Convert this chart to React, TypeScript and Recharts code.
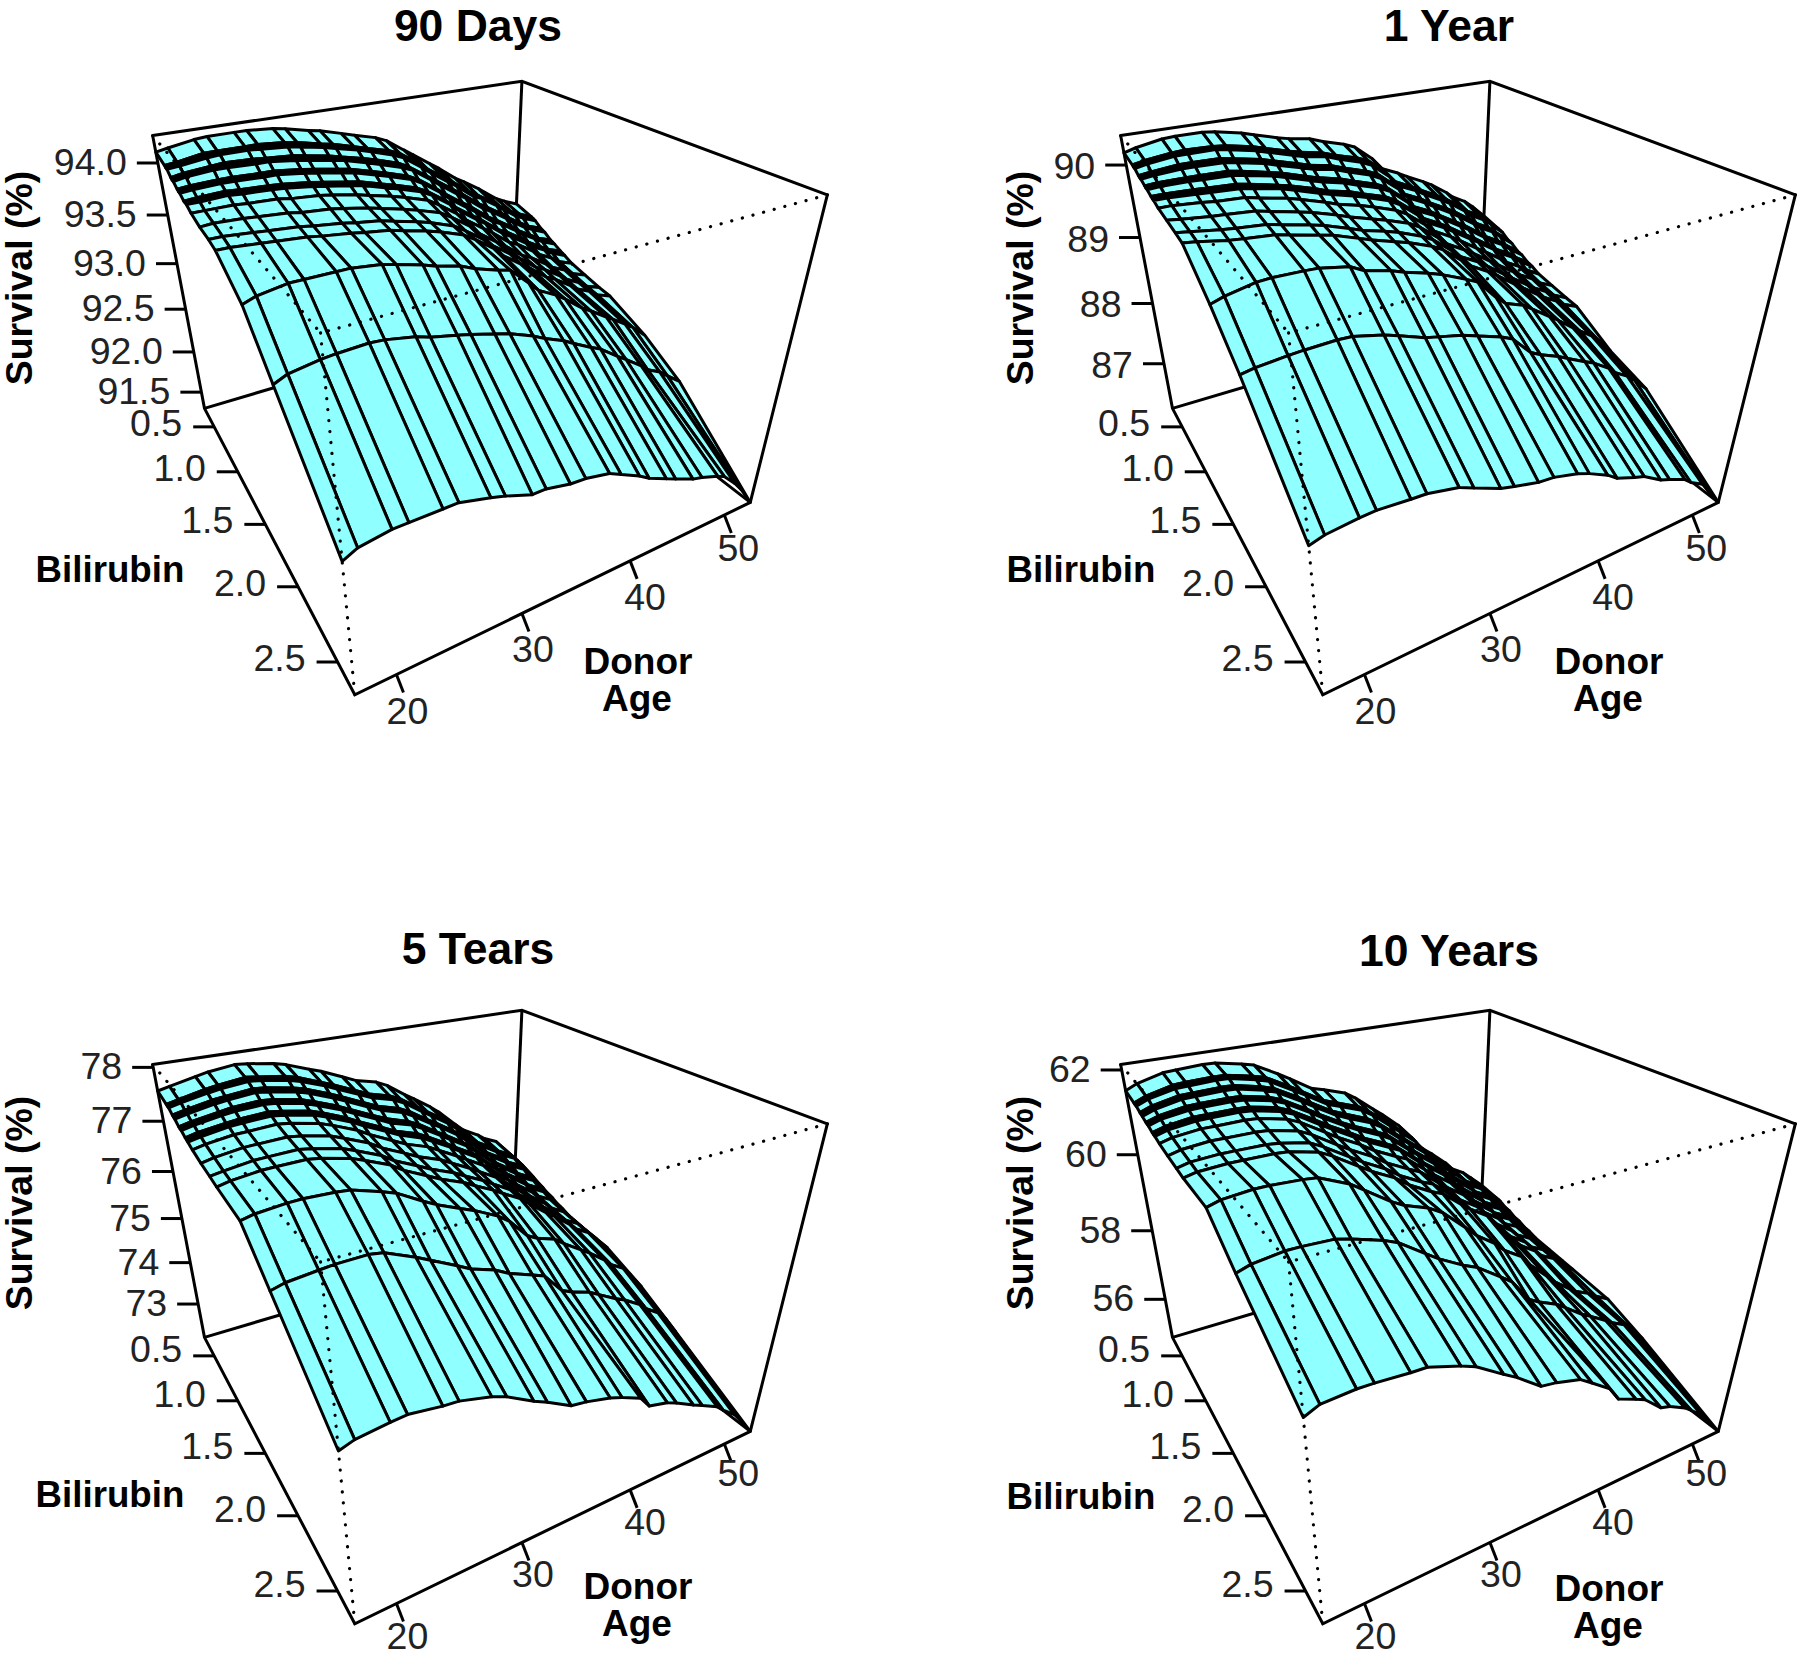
import React from "react";
import { ScatterChart, Scatter, XAxis, YAxis } from "recharts";

// Donor age (columns) and bilirubin (rows) of the surface grid
const AGES = [17,18,20.2,21.3,23.6,24.7,27,28.1,30.2,31.3,33.3,34.6,36.7,37.8,39.6,40.6,42.4,43.4,45.3,46.3,48.1,48.9,50.4,51.4,53];
const BILI = [0.27,0.46,0.485,0.51,0.58,0.605,0.63,0.7,0.725,0.75,0.82,0.845,0.87,0.95,1.1,1.25,1.36,1.71,2.04,2.69];
const AGE_LIMITS = [17, 53];
const BILI_LIMITS = [0.27, 2.69];
const AGE_TICKS = [20, 30, 40, 50];
const BILI_TICKS = ["0.5", "1.0", "1.5", "2.0", "2.5"];

const SURVIVAL_90D = [
[94.10,94.12,94.16,94.17,94.17,94.17,94.15,94.13,94.08,94.06,94.00,93.96,93.90,93.85,93.72,93.65,93.52,93.45,93.30,93.24,93.12,93.06,92.95,92.90,92.83],
[94.07,94.08,94.12,94.12,94.12,94.12,94.10,94.08,94.03,94.01,93.95,93.91,93.85,93.80,93.67,93.59,93.46,93.39,93.24,93.18,93.06,93.00,92.90,92.85,92.78],
[94.06,94.07,94.11,94.11,94.11,94.11,94.09,94.07,94.02,94.00,93.94,93.90,93.84,93.79,93.66,93.58,93.45,93.38,93.23,93.17,93.05,92.99,92.89,92.84,92.77],
[94.06,94.07,94.10,94.11,94.11,94.10,94.08,94.06,94.02,93.99,93.94,93.90,93.83,93.78,93.65,93.57,93.44,93.37,93.22,93.17,93.05,92.99,92.88,92.83,92.76],
[94.02,94.04,94.06,94.07,94.06,94.05,94.03,94.01,93.97,93.94,93.89,93.85,93.78,93.72,93.59,93.52,93.39,93.32,93.17,93.11,92.99,92.93,92.83,92.77,92.71],
[94.01,94.03,94.05,94.06,94.05,94.04,94.02,94.00,93.96,93.93,93.88,93.84,93.77,93.71,93.58,93.51,93.38,93.31,93.16,93.10,92.98,92.92,92.82,92.76,92.70],
[94.01,94.03,94.05,94.05,94.04,94.04,94.01,93.99,93.95,93.93,93.87,93.83,93.76,93.71,93.58,93.50,93.37,93.30,93.15,93.09,92.97,92.91,92.81,92.76,92.69],
[93.98,93.99,94.00,94.00,93.99,93.99,93.96,93.94,93.90,93.88,93.82,93.78,93.71,93.65,93.52,93.44,93.31,93.24,93.09,93.03,92.91,92.85,92.76,92.70,92.64],
[93.97,93.98,93.99,93.99,93.98,93.98,93.95,93.93,93.89,93.87,93.81,93.77,93.70,93.64,93.51,93.43,93.30,93.23,93.08,93.02,92.90,92.84,92.75,92.69,92.63],
[93.97,93.98,93.99,93.99,93.98,93.98,93.95,93.93,93.89,93.87,93.81,93.77,93.70,93.64,93.51,93.42,93.29,93.22,93.07,93.02,92.90,92.84,92.75,92.69,92.62],
[93.94,93.95,93.96,93.95,93.94,93.93,93.90,93.88,93.84,93.82,93.76,93.72,93.65,93.59,93.46,93.37,93.24,93.17,93.02,92.97,92.85,92.79,92.70,92.64,92.58],
[93.94,93.94,93.95,93.94,93.93,93.92,93.89,93.87,93.83,93.81,93.75,93.71,93.64,93.58,93.45,93.36,93.23,93.16,93.01,92.96,92.84,92.78,92.69,92.63,92.57],
[93.94,93.94,93.95,93.94,93.93,93.92,93.89,93.87,93.83,93.81,93.75,93.71,93.64,93.58,93.45,93.36,93.23,93.16,93.01,92.95,92.83,92.77,92.69,92.63,92.56],
[93.91,93.91,93.91,93.90,93.89,93.87,93.85,93.83,93.79,93.76,93.71,93.67,93.60,93.53,93.40,93.31,93.18,93.11,92.96,92.91,92.79,92.73,92.65,92.58,92.52],
[93.88,93.89,93.88,93.87,93.85,93.83,93.81,93.79,93.75,93.72,93.67,93.63,93.56,93.49,93.36,93.26,93.13,93.06,92.91,92.86,92.74,92.68,92.61,92.54,92.48],
[93.87,93.87,93.85,93.84,93.82,93.80,93.77,93.75,93.72,93.69,93.64,93.60,93.52,93.45,93.32,93.23,93.10,93.03,92.88,92.83,92.71,92.65,92.57,92.50,92.44],
[93.85,93.85,93.83,93.82,93.80,93.78,93.75,93.73,93.70,93.67,93.62,93.58,93.50,93.43,93.30,93.20,93.07,93.00,92.85,92.80,92.68,92.62,92.55,92.48,92.42],
[93.66,93.70,93.74,93.74,93.74,93.74,93.71,93.68,93.62,93.58,93.53,93.47,93.40,93.37,93.20,93.10,93.00,92.93,92.78,92.72,92.60,92.55,92.45,92.38,92.24],
[93.30,93.35,93.39,93.40,93.41,93.40,93.35,93.31,93.26,93.23,93.17,93.13,93.04,92.98,92.90,92.84,92.74,92.69,92.55,92.48,92.35,92.28,92.20,92.12,92.00],
[92.60,92.66,92.70,92.70,92.70,92.70,92.63,92.59,92.50,92.50,92.45,92.44,92.39,92.33,92.23,92.16,92.07,92.02,91.93,91.90,91.83,91.79,91.64,91.52,91.29],
];

const SURVIVAL_1Y = [
[90.16,90.2,90.26,90.27,90.27,90.25,90.18,90.13,90.04,90.0,89.95,89.88,89.79,89.72,89.5,89.32,89.2,89.12,88.98,88.9,88.72,88.62,88.5,88.38,88.16],
[90.13,90.16,90.2,90.21,90.2,90.18,90.11,90.06,89.97,89.93,89.87,89.8,89.71,89.64,89.42,89.25,89.12,89.04,88.89,88.81,88.63,88.53,88.41,88.29,88.09],
[90.12,90.15,90.19,90.2,90.19,90.17,90.1,90.05,89.96,89.91,89.86,89.79,89.69,89.62,89.4,89.23,89.11,89.02,88.87,88.79,88.61,88.51,88.39,88.28,88.08],
[90.12,90.15,90.19,90.19,90.19,90.16,90.09,90.04,89.95,89.9,89.85,89.78,89.68,89.61,89.39,89.22,89.1,89.01,88.86,88.78,88.6,88.5,88.38,88.27,88.07],
[90.08,90.1,90.13,90.13,90.12,90.09,90.02,89.97,89.88,89.83,89.77,89.7,89.6,89.53,89.31,89.15,89.02,88.93,88.78,88.69,88.51,88.42,88.3,88.18,88.0],
[90.07,90.09,90.12,90.12,90.11,90.08,90.01,89.96,89.87,89.82,89.76,89.69,89.59,89.51,89.3,89.14,89.01,88.92,88.76,88.67,88.49,88.4,88.28,88.17,87.99],
[90.07,90.09,90.11,90.11,90.1,90.07,90.0,89.95,89.86,89.81,89.75,89.68,89.58,89.5,89.29,89.13,89.0,88.91,88.75,88.66,88.48,88.39,88.27,88.16,87.98],
[90.04,90.05,90.05,90.05,90.04,90.01,89.93,89.89,89.79,89.74,89.67,89.6,89.5,89.42,89.2,89.05,88.92,88.83,88.66,88.57,88.39,88.3,88.18,88.07,87.91],
[90.03,90.04,90.04,90.04,90.03,90.0,89.92,89.88,89.78,89.73,89.66,89.59,89.49,89.41,89.19,89.04,88.91,88.82,88.65,88.56,88.38,88.29,88.17,88.06,87.9],
[90.03,90.04,90.04,90.03,90.02,89.99,89.92,89.87,89.77,89.72,89.65,89.58,89.48,89.4,89.18,89.03,88.9,88.81,88.64,88.55,88.37,88.28,88.16,88.05,87.89],
[90.0,90.0,89.99,89.98,89.96,89.93,89.85,89.81,89.71,89.65,89.58,89.51,89.41,89.32,89.11,88.97,88.83,88.74,88.56,88.47,88.29,88.2,88.08,87.97,87.83],
[89.99,89.99,89.98,89.97,89.95,89.92,89.84,89.8,89.7,89.64,89.57,89.5,89.4,89.31,89.1,88.96,88.82,88.73,88.55,88.46,88.28,88.19,88.07,87.96,87.82],
[89.99,89.99,89.97,89.96,89.94,89.91,89.84,89.79,89.69,89.64,89.56,89.5,89.39,89.3,89.09,88.95,88.81,88.72,88.54,88.45,88.27,88.18,88.06,87.95,87.81],
[89.96,89.96,89.93,89.91,89.89,89.85,89.78,89.73,89.63,89.57,89.49,89.43,89.32,89.23,89.02,88.89,88.74,88.65,88.46,88.37,88.19,88.1,87.98,87.88,87.75],
[89.94,89.92,89.88,89.87,89.84,89.8,89.72,89.68,89.58,89.52,89.43,89.37,89.26,89.17,88.96,88.83,88.68,88.59,88.4,88.3,88.12,88.04,87.92,87.81,87.7],
[89.92,89.9,89.85,89.83,89.8,89.76,89.68,89.64,89.53,89.47,89.39,89.33,89.21,89.12,88.91,88.78,88.64,88.54,88.34,88.24,88.06,87.98,87.86,87.76,87.65],
[89.9,89.88,89.82,89.8,89.77,89.73,89.65,89.61,89.5,89.44,89.35,89.29,89.17,89.08,88.87,88.75,88.6,88.5,88.3,88.2,88.02,87.94,87.82,87.72,87.62],
[89.55,89.6,89.67,89.68,89.67,89.66,89.59,89.5,89.42,89.36,89.27,89.2,89.06,88.98,88.7,88.57,88.47,88.37,88.18,88.08,87.88,87.8,87.65,87.52,87.28],
[89.15,89.18,89.21,89.22,89.23,89.22,89.13,89.07,88.95,88.91,88.84,88.77,88.66,88.58,88.31,88.23,88.12,88.04,87.9,87.83,87.66,87.55,87.42,87.3,87.08],
[88.24,88.29,88.33,88.34,88.31,88.3,88.22,88.14,87.99,87.94,87.86,87.84,87.75,87.68,87.54,87.43,87.32,87.27,87.09,87.03,86.91,86.81,86.68,86.49,86.2],
];

const SURVIVAL_5Y = [
[77.57,77.62,77.72,77.77,77.83,77.81,77.74,77.68,77.52,77.44,77.26,77.14,77.03,76.92,76.66,76.53,76.28,76.12,75.76,75.58,75.38,75.26,75.12,74.9,74.5],
[77.51,77.56,77.66,77.7,77.76,77.73,77.66,77.6,77.43,77.34,77.16,77.04,76.92,76.81,76.56,76.43,76.19,76.03,75.68,75.5,75.29,75.17,75.02,74.81,74.42],
[77.5,77.55,77.65,77.69,77.74,77.72,77.64,77.58,77.42,77.32,77.14,77.02,76.9,76.79,76.54,76.41,76.17,76.01,75.66,75.49,75.27,75.15,75.0,74.79,74.4],
[77.5,77.55,77.64,77.68,77.73,77.71,77.63,77.57,77.41,77.31,77.13,77.01,76.89,76.78,76.53,76.4,76.16,76.0,75.65,75.48,75.26,75.14,74.99,74.78,74.39],
[77.44,77.49,77.58,77.61,77.66,77.64,77.55,77.49,77.32,77.22,77.03,76.91,76.78,76.67,76.43,76.31,76.07,75.91,75.57,75.4,75.18,75.05,74.9,74.68,74.31],
[77.43,77.48,77.57,77.6,77.65,77.62,77.54,77.47,77.3,77.2,77.01,76.89,76.76,76.65,76.41,76.29,76.05,75.89,75.55,75.39,75.16,75.03,74.88,74.67,74.29],
[77.42,77.47,77.56,77.59,77.64,77.61,77.53,77.46,77.29,77.19,77.0,76.88,76.75,76.63,76.4,76.28,76.04,75.88,75.54,75.38,75.15,75.02,74.87,74.66,74.28],
[77.36,77.41,77.49,77.53,77.56,77.54,77.45,77.37,77.2,77.09,76.9,76.78,76.64,76.53,76.3,76.18,75.95,75.79,75.46,75.3,75.06,74.93,74.77,74.56,74.2],
[77.35,77.4,77.48,77.52,77.55,77.53,77.44,77.36,77.19,77.08,76.89,76.76,76.63,76.51,76.29,76.16,75.94,75.78,75.45,75.29,75.05,74.91,74.76,74.55,74.19],
[77.35,77.4,77.48,77.51,77.54,77.52,77.43,77.35,77.18,77.07,76.88,76.75,76.62,76.5,76.28,76.15,75.93,75.77,75.44,75.28,75.04,74.9,74.75,74.54,74.18],
[77.3,77.35,77.42,77.45,77.48,77.45,77.36,77.28,77.1,76.98,76.79,76.66,76.52,76.4,76.19,76.06,75.85,75.69,75.36,75.21,74.96,74.82,74.66,74.45,74.1],
[77.29,77.34,77.41,77.44,77.47,77.44,77.35,77.27,77.09,76.97,76.78,76.65,76.5,76.38,76.18,76.05,75.84,75.68,75.35,75.2,74.95,74.81,74.65,74.44,74.09],
[77.28,77.33,77.41,77.43,77.46,77.43,77.34,77.26,77.08,76.96,76.77,76.64,76.49,76.37,76.17,76.04,75.83,75.67,75.34,75.19,74.94,74.8,74.64,74.43,74.08],
[77.24,77.29,77.36,77.37,77.4,77.37,77.27,77.19,77.01,76.88,76.68,76.55,76.4,76.28,76.08,75.96,75.75,75.59,75.27,75.12,74.86,74.72,74.56,74.35,74.01],
[77.19,77.24,77.31,77.32,77.34,77.31,77.21,77.12,76.94,76.8,76.61,76.48,76.32,76.2,76.01,75.89,75.68,75.52,75.21,75.06,74.8,74.65,74.48,74.28,73.95],
[77.16,77.2,77.27,77.28,77.3,77.26,77.16,77.07,76.89,76.74,76.55,76.42,76.25,76.13,75.95,75.83,75.62,75.46,75.16,75.02,74.74,74.59,74.42,74.22,73.9],
[77.13,77.18,77.24,77.25,77.26,77.23,77.12,77.03,76.85,76.7,76.5,76.37,76.2,76.08,75.9,75.78,75.58,75.42,75.12,74.98,74.7,74.55,74.38,74.18,73.86],
[77.08,77.13,77.18,77.19,77.17,77.15,77.0,76.92,76.67,76.55,76.37,76.26,76.04,75.88,75.49,75.38,75.25,75.1,74.85,74.72,74.45,74.3,74.12,73.9,73.51],
[76.52,76.58,76.63,76.65,76.66,76.62,76.4,76.28,76.05,75.92,75.77,75.62,75.45,75.36,74.95,74.85,74.72,74.6,74.38,74.28,74.05,73.9,73.7,73.5,73.06],
[75.42,75.5,75.56,75.58,75.5,75.48,75.34,75.24,74.97,74.85,74.6,74.55,74.43,74.34,74.16,73.91,73.81,73.71,73.49,73.39,73.19,73.04,72.8,72.56,72.15],
];

const SURVIVAL_10Y = [
[61.53,61.65,61.8,61.82,61.85,61.84,61.72,61.65,61.35,61.18,60.85,60.75,60.57,60.38,60.0,59.8,59.4,59.05,58.55,58.35,57.95,57.72,57.5,57.28,56.92],
[61.48,61.59,61.73,61.75,61.77,61.76,61.64,61.56,61.25,61.08,60.76,60.64,60.44,60.26,59.88,59.68,59.3,58.95,58.45,58.24,57.85,57.63,57.41,57.19,56.83],
[61.47,61.58,61.72,61.73,61.76,61.75,61.62,61.54,61.23,61.06,60.74,60.62,60.42,60.24,59.86,59.66,59.28,58.93,58.43,58.22,57.83,57.61,57.39,57.17,56.82],
[61.47,61.58,61.71,61.72,61.75,61.74,61.61,61.53,61.22,61.05,60.73,60.61,60.41,60.23,59.85,59.65,59.26,58.92,58.41,58.21,57.82,57.6,57.38,57.16,56.81],
[61.42,61.52,61.64,61.65,61.67,61.66,61.53,61.44,61.13,60.95,60.64,60.5,60.28,60.11,59.73,59.53,59.16,58.83,58.31,58.1,57.73,57.5,57.29,57.08,56.72],
[61.41,61.51,61.63,61.64,61.66,61.65,61.52,61.42,61.11,60.93,60.62,60.48,60.26,60.09,59.71,59.51,59.14,58.81,58.29,58.08,57.71,57.49,57.27,57.06,56.71],
[61.4,61.5,61.62,61.63,61.65,61.64,61.51,61.41,61.1,60.92,60.61,60.46,60.24,60.07,59.69,59.49,59.13,58.8,58.28,58.06,57.69,57.48,57.26,57.05,56.7],
[61.36,61.45,61.55,61.56,61.57,61.56,61.43,61.32,61.0,60.82,60.52,60.35,60.11,59.96,59.58,59.38,59.02,58.7,58.17,57.95,57.6,57.38,57.17,56.96,56.61],
[61.35,61.44,61.54,61.55,61.56,61.55,61.42,61.31,60.99,60.81,60.51,60.34,60.09,59.94,59.56,59.36,59.01,58.69,58.16,57.93,57.58,57.37,57.16,56.95,56.6],
[61.35,61.44,61.53,61.54,61.55,61.54,61.41,61.3,60.98,60.8,60.5,60.33,60.08,59.93,59.55,59.35,59.0,58.68,58.15,57.92,57.57,57.36,57.15,56.94,56.59],
[61.3,61.38,61.47,61.47,61.48,61.47,61.34,61.22,60.89,60.71,60.42,60.22,59.97,59.82,59.44,59.24,58.9,58.58,58.05,57.82,57.48,57.27,57.07,56.86,56.51],
[61.29,61.37,61.46,61.46,61.47,61.46,61.33,61.21,60.87,60.7,60.4,60.21,59.95,59.81,59.43,59.23,58.89,58.57,58.04,57.81,57.47,57.26,57.06,56.85,56.5],
[61.29,61.37,61.45,61.46,61.47,61.45,61.32,61.2,60.86,60.69,60.39,60.2,59.94,59.8,59.42,59.22,58.88,58.56,58.03,57.8,57.46,57.25,57.05,56.84,56.49],
[61.25,61.32,61.39,61.39,61.4,61.38,61.25,61.12,60.78,60.6,60.32,60.1,59.83,59.7,59.32,59.12,58.79,58.48,57.94,57.7,57.38,57.17,56.97,56.76,56.42],
[61.21,61.28,61.34,61.34,61.34,61.32,61.19,61.05,60.7,60.53,60.25,60.02,59.74,59.61,59.23,59.03,58.71,58.4,57.86,57.62,57.3,57.1,56.9,56.7,56.36],
[61.18,61.25,61.29,61.29,61.29,61.26,61.14,60.99,60.65,60.47,60.19,59.95,59.66,59.54,59.15,58.95,58.65,58.35,57.8,57.55,57.25,57.04,56.84,56.64,56.3],
[61.16,61.22,61.26,61.26,61.26,61.24,61.1,60.95,60.6,60.42,60.15,59.9,59.6,59.48,59.1,58.9,58.6,58.3,57.75,57.5,57.2,57.0,56.8,56.6,56.26],
[61.17,61.25,61.31,61.31,61.28,61.25,60.98,60.78,60.4,60.24,60.05,59.85,59.35,59.08,58.75,58.5,58.2,57.9,57.45,57.2,56.85,56.7,56.52,56.35,56.12],
[60.56,60.65,60.73,60.73,60.7,60.62,60.42,60.29,59.9,59.7,59.4,59.24,58.85,58.64,58.05,57.9,57.68,57.5,57.15,57.0,56.72,56.58,56.38,56.15,55.73],
[59.51,59.64,59.68,59.67,59.62,59.61,59.39,59.26,58.88,58.69,58.28,58.22,58.06,57.86,57.52,57.16,56.95,56.82,56.39,56.31,56.06,55.9,55.58,55.28,54.8],
];

const Z_TICKS_90D = ["94.0","93.5","93.0","92.5","92.0","91.5"];
const Z_TICKS_1Y = ["90","89","88","87"];
const Z_TICKS_5Y = ["78","77","76","75","74","73"];
const Z_TICKS_10Y = ["62","60","58","56"];

const TITLES = ["90 Days", "1 Year", "5 Tears", "10 Years"];
const TABLES = [SURVIVAL_90D, SURVIVAL_1Y, SURVIVAL_5Y, SURVIVAL_10Y];
const Z_TICKS = [Z_TICKS_90D, Z_TICKS_1Y, Z_TICKS_5Y, Z_TICKS_10Y];
const Z_LIMITS = [[91.29, 94.25], [86.2, 90.38], [72.15, 78.05], [54.8, 62.12]];

// layout of the panels and of the view box (chart units = px)
const PANEL_POS = [[0, 0], [967.5, 0], [0, 929], [968, 929]];
const W = 900;
const PAD = 20;
const PANEL_H = [740, 740, 729, 729];
const AGE_LABEL_DX = [0, 0, 4, 3];
const AGE_LABEL_DY = [0, 0, 0, -3];
// on-screen place of the eight corners of the persp box: [u, v, w, x, y]
const BOX_VIEW = [
  [0,0,0,205,407.7],[0,1,0,354.3,695],[1,1,0,752,501],[1,0,0,510,319],
  [0,0,1,152.7,135],[0,1,1,320,335],[1,1,1,826,195],[1,0,1,523,80.7],
];

function solve(A: number[][], b: number[]) {
  const n = b.length;
  const M = A.map((r, i) => [...r, b[i]]);
  for (let c = 0; c < n; c++) {
    let p = c;
    for (let r = c + 1; r < n; r++) if (Math.abs(M[r][c]) > Math.abs(M[p][c])) p = r;
    [M[c], M[p]] = [M[p], M[c]];
    for (let r = 0; r < n; r++) {
      if (r === c) continue;
      const f = M[r][c] / M[c][c];
      for (let k = c; k <= n; k++) M[r][k] -= f * M[c][k];
    }
  }
  return M.map((r, i) => r[n] / r[i]);
}

function fitCamera() {
  const N = 11;
  const ATA = Array.from({ length: N }, () => new Array(N).fill(0));
  const ATb = new Array(N).fill(0);
  const add = (row: number[], t: number) => {
    for (let i = 0; i < N; i++) {
      ATb[i] += row[i] * t;
      for (let j = 0; j < N; j++) ATA[i][j] += row[i] * row[j];
    }
  };
  for (const [u, v, w, px, py] of BOX_VIEW) {
    const x = px / 1000, y = py / 1000;
    add([u, v, w, 1, 0, 0, 0, 0, -x * u, -x * v, -x * w], x);
    add([0, 0, 0, 0, u, v, w, 1, -y * u, -y * v, -y * w], y);
  }
  return solve(ATA, ATb);
}
const CAM = fitCamera();

function project(age: number, bili: number, z: number, lim: number[]) {
  const u = (age - AGE_LIMITS[0]) / (AGE_LIMITS[1] - AGE_LIMITS[0]);
  const v = (bili - BILI_LIMITS[0]) / (BILI_LIMITS[1] - BILI_LIMITS[0]);
  const w = (z - lim[0]) / (lim[1] - lim[0]);
  const d = CAM[8] * u + CAM[9] * v + CAM[10] * w + 1;
  return {
    x: (1000 * (CAM[0] * u + CAM[1] * v + CAM[2] * w + CAM[3])) / d,
    y: (1000 * (CAM[4] * u + CAM[5] * v + CAM[6] * w + CAM[7])) / d,
  };
}

const CYAN = "#8FFFFF";

const polygonLine = (props: any) => {
  const pts = props.points || [];
  if (!pts.length) return null;
  const d = "M" + pts.map((p: any) => `${p.x},${p.y}`).join("L") + "Z";
  return <path d={d} fill={CYAN} stroke="#000" strokeWidth={3} strokeLinejoin="round" />;
};
const noDot = () => null;
const textDot = (p: any) => {
  const a = p.payload;
  const tr = a.rotate ? `rotate(${a.rotate} ${p.cx} ${p.cy})` : undefined;
  return (
    <text x={p.cx} y={p.cy} transform={tr} textAnchor={a.anchor} fontSize={a.size}
      fontWeight={a.bold ? 700 : 400} fontFamily="'Liberation Sans', Arial, sans-serif" fill={a.bold ? "#000" : "#222"}>
      {a.label}
    </text>
  );
};

function segment(key: string, pts: any[], dotted = false) {
  return (
    <Scatter key={key} data={pts} shape={noDot} lineType="joint" isAnimationActive={false} legendType="none"
      line={dotted
        ? { stroke: "#000", strokeWidth: 3.2, strokeDasharray: "0.1 10.9", strokeLinecap: "round" }
        : { stroke: "#000", strokeWidth: 3 }} />
  );
}

function Panel({ index }: { index: number }) {
  const H = PANEL_H[index];
  const table = TABLES[index];
  const lim = Z_LIMITS[index];
  const [a0, a1] = AGE_LIMITS;
  const [b0, b1] = BILI_LIMITS;
  const [z0, z1] = lim;
  const P = (a: number, b: number, z: number) => project(a, b, z, lim);

  // box behind the surface
  const back = [
    segment("e1", [P(a0,b0,z1), P(a1,b0,z1), P(a1,b1,z1), P(a1,b1,z0), P(a0,b1,z0), P(a0,b0,z0), P(a0,b0,z1)]),
    segment("e2", [P(a1,b0,z1), P(a1,b0,z0)]),
    segment("e3", [P(a0,b0,z0), P(a1,b0,z0), P(a1,b1,z0)]),
  ];

  // surface, painted from the far corner towards the viewer
  const quads: any[] = [];
  for (let r = 0; r < BILI.length - 1; r++) {
    for (let c = AGES.length - 2; c >= 0; c--) {
      const data = [
        P(AGES[c], BILI[r], table[r][c]),
        P(AGES[c + 1], BILI[r], table[r][c + 1]),
        P(AGES[c + 1], BILI[r + 1], table[r + 1][c + 1]),
        P(AGES[c], BILI[r + 1], table[r + 1][c]),
      ];
      quads.push(
        <Scatter key={`q${r}-${c}`} data={data} shape={noDot} line={polygonLine} lineType="joint"
          isAnimationActive={false} legendType="none" />
      );
    }
  }

  const front = [
    segment("d1", [P(a0,b0,z1), P(a0,b1,z1)], true),
    segment("d2", [P(a1,b1,z1), P(a0,b1,z1)], true),
    segment("d3", [P(a0,b1,z1), P(a0,b1,z0)], true),
  ];

  const low = index > 1;
  const shift = (p: any, dx: number, dy: number) => ({ x: p.x + dx, y: p.y + dy });
  const ticks: any[] = [];
  const labels: any[] = [];
  Z_TICKS[index].forEach((t, i) => {
    const p = P(a0, b0, Number(t));
    ticks.push(segment(`tz${i}`, [p, shift(p, -21, 0)]));
    labels.push({ ...shift(p, -31, index === 1 ? 14 : 12), label: t, anchor: "end", size: 37.5 });
  });
  BILI_TICKS.forEach((t, i) => {
    const p = P(a0, Number(t), z0);
    ticks.push(segment(`tb${i}`, [p, shift(p, -21, 0)]));
    labels.push({ ...shift(p, -32, low ? 6 : 9), label: t, anchor: "end", size: 37.5 });
  });
  AGE_TICKS.forEach((t, i) => {
    const p = P(t, b1, z0);
    ticks.push(segment(`ta${i}`, [p, shift(p, 7, 18)]));
    labels.push({ ...shift(p, 11 + AGE_LABEL_DX[i], (low ? 45 : 49) + AGE_LABEL_DY[i]), label: String(t), anchor: "middle", size: 37.5 });
  });
  const dx = index % 2 ? 3 : 0;
  const dy = low ? -4 : 0;
  const ty = index === 3 ? 2 : 0;
  labels.push({ x: 478 + dx, y: 41 + (low ? -6 + ty : 0), label: TITLES[index], anchor: "middle", size: 44.5, bold: true });
  labels.push({ x: index % 2 ? 64.5 : 32, y: 278 + dy, label: "Survival (%)", anchor: "middle", size: 37.5, bold: true, rotate: -90 });
  labels.push({ x: 110 + dx, y: 582 + dy + ty, label: "Bilirubin", anchor: "middle", size: 36.7, bold: true });
  labels.push({ x: 638 + dx, y: 674 + dy + ty, label: "Donor", anchor: "middle", size: 37, bold: true });
  labels.push({ x: 637 + dx, y: 711 + dy + ty, label: "Age", anchor: "middle", size: 37, bold: true });

  return (
    <div style={{ position: "absolute", left: PANEL_POS[index][0] - PAD, top: PANEL_POS[index][1] - PAD, width: W + PAD, height: H + PAD }}>
      <ScatterChart width={W + PAD} height={H + PAD} margin={{ top: 0, right: 0, bottom: 0, left: 0 }}>
        <XAxis type="number" dataKey="x" domain={[-PAD, W]} hide />
        <YAxis type="number" dataKey="y" domain={[-PAD, H]} reversed hide />
        {back}
        {quads}
        {front}
        {ticks}
        <Scatter data={labels} shape={textDot} isAnimationActive={false} legendType="none" />
      </ScatterChart>
    </div>
  );
}

export default function App() {
  return (
    <div style={{ position: "absolute", left: 0, top: 0, width: 1800, height: 1658, background: "#fff", overflow: "hidden" }}>
      {TITLES.map((_, i) => <Panel key={i} index={i} />)}
    </div>
  );
}
